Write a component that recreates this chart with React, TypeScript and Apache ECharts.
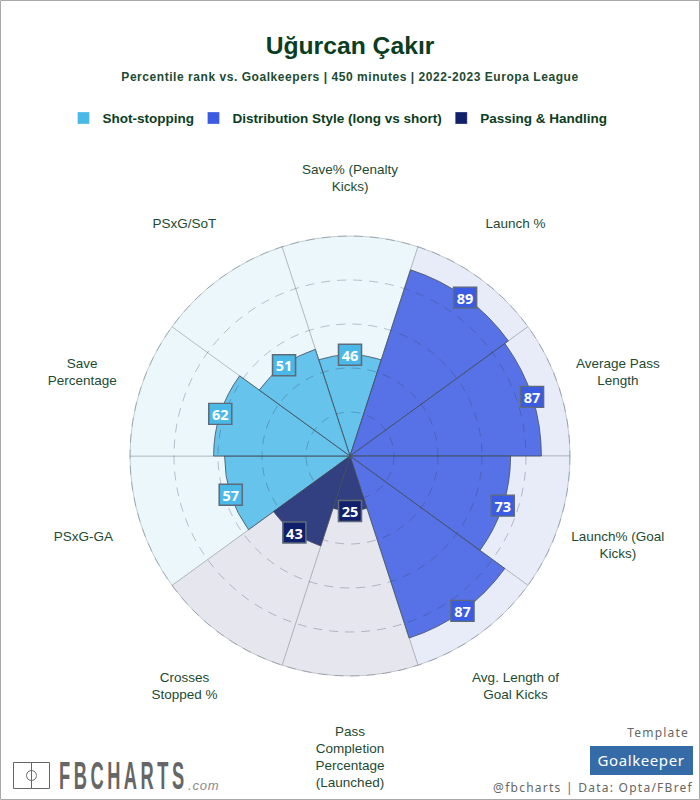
import React, { useEffect, useRef } from "react";
import * as echarts from "echarts";

const categories = [
  "Save% (Penalty\nKicks)", "Launch %", "Average Pass\nLength", "Launch% (Goal\nKicks)",
  "Avg. Length of\nGoal Kicks", "Pass\nCompletion\nPercentage\n(Launched)", "Crosses\nStopped %",
  "PSxG-GA", "Save\nPercentage", "PSxG/SoT",
];
const values = [46, 89, 87, 73, 87, 25, 43, 57, 62, 51];
const groups = [0, 1, 1, 1, 1, 2, 2, 0, 0, 0];
const groupNames = ["Shot-stopping", "Distribution Style (long vs short)", "Passing & Handling"];
const solidColors = ["#4BB9E8", "#3A5BE2", "#10206B"];
const backColors = ["#ECF7FC", "#E8EBF8", "#E6E6EF"];
const fullScale = values.map(() => 100);
const labelRadius = [127, 128, 128, 128, 128, 137, 128, 127, 128, 128];
const labelNudgeX = [0, 0, 0, 0, 0, 0, 0, -1, 0, 0];
const labelNudgeY = [1, -5, 3, 2, 2, 0, 2, -6, 3, -5];

const SANS = '"Liberation Sans", Arial, sans-serif';
const GREEN = "#0A3D22";
const spacing: Record<string, string> = {
  "Percentile rank vs. Goalkeepers | 450 minutes | 2022-2023 Europa League": "0.55px",
  "FBCHARTS": "7.4px",
  ".com": "0.8px",
  "Template": "1.2px",
  "Goalkeeper": "0.6px",
  "@fbcharts | Data: Opta/FBref": "1.25px",
};

export default function App() {
  const ref = useRef<HTMLDivElement>(null);
  useEffect(() => {
    document.body.style.margin = "0";
    const chart = echarts.init(ref.current!, null, { renderer: "svg", width: 700, height: 800 });
    const barBase = {
      type: "bar" as const,
      coordinateSystem: "polar" as const,
      barGap: "-100%",
      barCategoryGap: "0%",
    };
    chart.setOption({
      animation: false,
      backgroundColor: "#fff",
      polar: { center: [350, 456], radius: 220 },
      angleAxis: {
        type: "category",
        data: categories,
        startAngle: 108,
        boundaryGap: true,
        axisLine: { show: false },
        axisTick: { show: false },
        splitLine: { show: false },
        axisLabel: { show: false },
      },
      radiusAxis: {
        min: 0, max: 100, interval: 20, z: 5,
        axisLine: { show: false }, axisTick: { show: false }, axisLabel: { show: false },
        splitLine: { show: true, showMaxLine: false, lineStyle: { type: [9, 7], width: 1, color: "rgba(50,60,85,0.3)" } },
      },
      legend: {
        left: 77, top: 111, padding: 0, icon: "rect", itemWidth: 12, itemHeight: 12, itemGap: 13,
        data: groupNames,
        itemStyle: { opacity: 1, borderWidth: 1, borderColor: "rgba(255,255,255,0.3)" },
        textStyle: { fontFamily: SANS, fontSize: 13.5, fontWeight: "bold", color: GREEN, padding: [0, 0, 0, 8] },
      },
      series: [
        {
          ...barBase, name: "scale", silent: true,
          data: fullScale.map((v, i) => ({ value: v, itemStyle: { color: backColors[groups[i]] } })),
          itemStyle: { borderColor: "rgba(110,120,120,0.35)", borderWidth: 1 },
        },
        ...groupNames.map((name, g) => ({
          ...barBase, name,
          data: values.map((v, i) => (groups[i] === g ? v : null)),
          itemStyle: { color: solidColors[g], opacity: 0.84, borderColor: "#4A5560", borderWidth: 1 },
        })),
        {
          type: "scatter", coordinateSystem: "polar", symbol: "rect", symbolSize: [23, 21], z: 10,
          clip: false,
          data: values.map((v, i) => ({
            value: [v, i],
            itemStyle: { color: solidColors[groups[i]], borderColor: "#5F6B78", borderWidth: 1.5, opacity: 1 },
          })),
          label: {
            show: true, position: "inside", color: "#fff", fontSize: 14.5, fontWeight: "bold",
            fontFamily: '"Noto Sans", sans-serif',
            formatter: (p: any) => String(p.value[0]),
          },
        },
        {
          type: "scatter", coordinateSystem: "polar", symbolSize: 0, silent: true, clip: false, z: 10,
          itemStyle: { opacity: 1 },
          data: categories.map((c, i) => ({
            value: [labelRadius[i], i],
            name: c,
            label: { offset: [labelNudgeX[i], labelNudgeY[i]] },
          })),
          label: {
            show: true, position: "inside", align: "center", verticalAlign: "middle",
            formatter: (p: any) => p.name,
            fontFamily: SANS, fontSize: 13.5, color: "#1D4A33", lineHeight: 17,
          },
        },
      ],
      graphic: [
        { type: "rect", shape: { x: 0.5, y: 0.5, width: 699, height: 799 }, style: { fill: "none", stroke: "#A8A8A8", lineWidth: 1 } },
        { type: "text", x: 350, y: 45, style: { text: "Uğurcan Çakır", align: "center", verticalAlign: "middle", font: `bold 24.7px ${SANS}`, fill: GREEN } },
        { type: "text", x: 350, y: 77, style: { text: "Percentile rank vs. Goalkeepers | 450 minutes | 2022-2023 Europa League", align: "center", verticalAlign: "middle", font: `bold 12px ${SANS}`, fill: "#1D4A33" } },
        { type: "rect", shape: { x: 13.5, y: 762.5, width: 36, height: 26 }, style: { fill: "none", stroke: "#666", lineWidth: 1 } },
        { type: "line", shape: { x1: 31.5, y1: 762.5, x2: 31.5, y2: 788.5 }, style: { stroke: "#666", lineWidth: 1 } },
        { type: "circle", shape: { cx: 31.5, cy: 775.5, r: 5 }, style: { fill: "none", stroke: "#666", lineWidth: 1 } },
        { type: "text", x: 59, y: 776, scaleX: 0.48, style: { text: "FBCHARTS", align: "left", verticalAlign: "middle", font: `bold 38px ${SANS}`, fill: "#666" } },
        { type: "text", x: 188, y: 785, style: { text: ".com", align: "left", verticalAlign: "middle", font: `italic 13px ${SANS}`, fill: "#8A8A8A" } },
        { type: "text", x: 689, y: 732, style: { text: "Template", align: "right", verticalAlign: "middle", font: `12px "Noto Sans", sans-serif`, fill: "#666" } },
        { type: "rect", shape: { x: 590, y: 746, width: 103, height: 29 }, style: { fill: "#356BA6" } },
        { type: "text", x: 641, y: 760, style: { text: "Goalkeeper", align: "center", verticalAlign: "middle", font: `15px "Noto Sans", sans-serif`, fill: "#fff" } },
        { type: "text", x: 693, y: 787, style: { text: "@fbcharts | Data: Opta/FBref", align: "right", verticalAlign: "middle", font: `12px "Noto Sans", sans-serif`, fill: "#666" } },
      ],
    });
    ref.current!.querySelectorAll("text").forEach((t) => {
      const s = spacing[t.textContent || ""];
      if (s) t.setAttribute("letter-spacing", s);
    });
    return () => chart.dispose();
  }, []);
  return <div ref={ref} style={{ width: 700, height: 800 }} />;
}
